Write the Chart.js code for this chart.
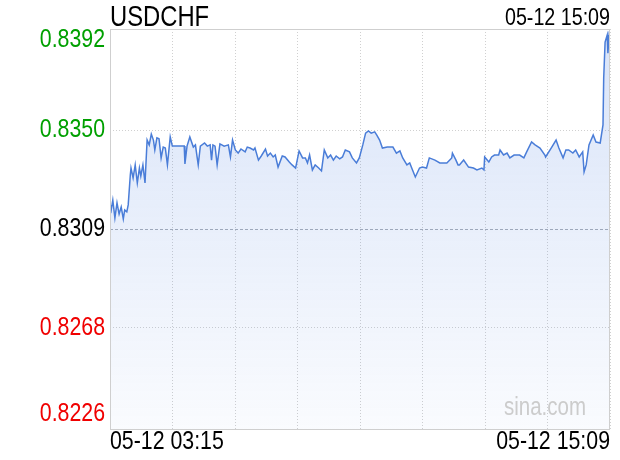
<!DOCTYPE html>
<html lang="en">
<head>
    <meta charset="UTF-8">
    <title>USDCHF</title>
    <script src="https://cdn.jsdelivr.net/npm/chart.js@4.4.1/dist/chart.umd.min.js"></script>
    <style>
        body { margin: 0; background: #fff; }
        canvas { display: block; }
    </style>
</head>
<body>
    <canvas id="fx" width="620" height="460"></canvas>

    <script>
        const symbol = "USDCHF";
        const lastTime = "05-12 15:09";
        const xLabels = ["05-12 03:15", "05-12 15:09"];
        const yTicks = [0.8226, 0.8268, 0.8309, 0.8350, 0.8392];
        const prevClose = 0.8309;

        // minutes after 03:15
        const minutes = [0, 1, 4, 7, 10, 13, 16, 19, 21, 24, 26, 29, 30, 33, 36, 39, 42, 44, 47, 50,
            53, 56, 59, 62, 64, 67, 70, 73, 76, 79, 82, 86, 89, 106, 107, 110, 114, 119, 122, 124,
            126, 129, 135, 139, 143, 145, 147, 150, 153, 157, 163, 169, 172, 175, 179, 183, 187, 193, 196, 200,
            205, 207, 212, 216, 222, 225, 229, 233, 236, 240, 246, 250, 256, 260, 265, 270, 275, 279, 282, 285,
            289, 293, 298, 302, 306, 311, 315, 319, 323, 328, 332, 336, 342, 346, 352, 356, 361, 365, 369, 373,
            378, 381, 385, 389, 396, 404, 409, 414, 418, 424, 428, 432, 436, 442, 446, 452, 456, 464, 471, 481,
            488, 489, 494, 497, 499, 505, 512, 519, 524, 531, 534, 535, 541, 545, 549, 555, 557, 562, 567, 571,
            577, 585, 591, 595, 602, 607, 614, 621, 622, 630, 637, 641, 647, 651, 655, 661, 665, 670, 675, 677,
            680, 684, 690, 694, 700, 704, 705, 707, 710, 711, 713, 714];

        const prices = [0.83190, 0.83156, 0.83210, 0.83136, 0.83198, 0.83152, 0.83181, 0.83132, 0.83169, 0.83161,
            0.83190, 0.83314, 0.83343, 0.83302, 0.83356, 0.83281, 0.83343, 0.83310, 0.83356, 0.83281,
            0.83459, 0.83439, 0.83484, 0.83459, 0.83418, 0.83468, 0.83464, 0.83385, 0.83430, 0.83426,
            0.83356, 0.83472, 0.83434, 0.83434, 0.83360, 0.83434, 0.83472, 0.83430, 0.83439, 0.83397,
            0.83356, 0.83434, 0.83447, 0.83434, 0.83439, 0.83376, 0.83439, 0.83434, 0.83356, 0.83443,
            0.83434, 0.83439, 0.83389, 0.83459, 0.83418, 0.83405, 0.83422, 0.83410, 0.83430, 0.83426,
            0.83418, 0.83426, 0.83376, 0.83393, 0.83422, 0.83393, 0.83405, 0.83389, 0.83397, 0.83347,
            0.83393, 0.83389, 0.83368, 0.83356, 0.83343, 0.83414, 0.83385, 0.83385, 0.83364, 0.83397,
            0.83335, 0.83356, 0.83343, 0.83331, 0.83418, 0.83385, 0.83397, 0.83376, 0.83393, 0.83381,
            0.83389, 0.83418, 0.83410, 0.83385, 0.83364, 0.83385, 0.83439, 0.83488, 0.83497, 0.83488,
            0.83493, 0.83480, 0.83459, 0.83426, 0.83430, 0.83430, 0.83405, 0.83414, 0.83385, 0.83356,
            0.83364, 0.83335, 0.83306, 0.83343, 0.83347, 0.83343, 0.83385, 0.83376, 0.83364, 0.83364,
            0.83385, 0.83405, 0.83376, 0.83356, 0.83356, 0.83376, 0.83347, 0.83343, 0.83335, 0.83343,
            0.83335, 0.83389, 0.83368, 0.83389, 0.83397, 0.83397, 0.83418, 0.83397, 0.83405, 0.83385,
            0.83397, 0.83397, 0.83385, 0.83410, 0.83451, 0.83439, 0.83426, 0.83397, 0.83389, 0.83426,
            0.83459, 0.83426, 0.83385, 0.83418, 0.83418, 0.83405, 0.83418, 0.83389, 0.83410, 0.83327,
            0.83356, 0.83439, 0.83480, 0.83451, 0.83447, 0.83522, 0.83717, 0.83866, 0.83895, 0.83820,
            0.83908, 0.83916];

        const FONT = '"Liberation Sans", Arial, sans-serif';
        const NARROW = 0.82;   // no narrow face installed, squeeze the normal one
        const lineColor = '#4a7dd8';

        function labelColor(v) {
            if (v > prevClose) return '#00a000';
            if (v < prevClose) return '#f00000';
            return '#000000';
        }

        function narrowText(ctx, text, x, y, align) {
            ctx.save();
            ctx.translate(x, y);
            ctx.scale(NARROW, 1);
            ctx.textAlign = align;
            ctx.fillText(text, 0, 0);
            ctx.restore();
        }

        const textPlugin = {
            id: 'sinaText',
            afterDatasetsDraw(chart) {
                const {ctx, chartArea} = chart;
                ctx.save();
                ctx.font = '25px ' + FONT;
                ctx.fillStyle = '#cccccc';
                ctx.textBaseline = 'alphabetic';
                narrowText(ctx, 'sina.com', chartArea.right - 24, chartArea.bottom - 14, 'right');
                ctx.restore();
            },
            afterDraw(chart) {
                const {ctx, chartArea} = chart;
                const yScale = chart.scales.y;
                ctx.save();
                // frame
                ctx.strokeStyle = '#cfcfcf';
                ctx.lineWidth = 1;
                ctx.strokeRect(chartArea.left + 0.5, chartArea.top + 0.5,
                    chartArea.right - chartArea.left - 1, chartArea.bottom - chartArea.top);

                // title and time
                ctx.fillStyle = '#000';
                ctx.textBaseline = 'alphabetic';
                ctx.font = '29px ' + FONT;
                narrowText(ctx, symbol, chartArea.left, 26, 'left');
                ctx.font = '24px ' + FONT;
                narrowText(ctx, lastTime, chartArea.right, 25, 'right');

                // x labels
                ctx.font = '26px ' + FONT;
                narrowText(ctx, xLabels[0], chartArea.left, 449, 'left');
                narrowText(ctx, xLabels[1], chartArea.right, 449, 'right');

                // y labels
                ctx.font = '26px ' + FONT;
                ctx.textBaseline = 'middle';
                yTicks.forEach(v => {
                    let y = yScale.getPixelForValue(v);
                    y = Math.max(y, chartArea.top + 11);
                    y = Math.min(y, chartArea.bottom - 15);
                    ctx.fillStyle = labelColor(v);
                    narrowText(ctx, v.toFixed(4), chartArea.left - 5, y, 'right');
                });
                ctx.restore();
            }
        };

        const points = minutes.map((m, i) => ({x: m, y: prices[i]}));
        const xGrid = [0, 1, 2, 3, 4, 5, 6, 7, 8].map(i => i * 714 / 8);

        new Chart(document.getElementById('fx'), {
            type: 'line',
            data: {
                datasets: [{
                    data: points,
                    borderColor: lineColor,
                    borderWidth: 1.5,
                    pointRadius: 0,
                    tension: 0,
                    fill: 'start',
                    backgroundColor: ctx => {
                        const area = ctx.chart.chartArea;
                        if (!area) return 'rgba(90,140,225,0.15)';
                        const g = ctx.chart.ctx.createLinearGradient(0, area.top, 0, area.bottom);
                        g.addColorStop(0, 'rgba(80,130,225,0.22)');
                        g.addColorStop(1, 'rgba(80,130,225,0.03)');
                        return g;
                    }
                }]
            },
            options: {
                responsive: false,
                animation: false,
                devicePixelRatio: 1,
                layout: { padding: { top: 29, right: 10, left: 0, bottom: 0 } },
                plugins: {
                    legend: { display: false },
                    tooltip: { enabled: false }
                },
                scales: {
                    x: {
                        type: 'linear',
                        min: 0,
                        max: 714,
                        afterBuildTicks: scale => { scale.ticks = xGrid.map(v => ({value: v})); },
                        afterFit: scale => { scale.height = 31; },
                        border: { display: false, dash: [1, 2] },
                        grid: { color: '#d0d0d0', drawTicks: false, lineWidth: 1 },
                        ticks: { display: false }
                    },
                    y: {
                        min: yTicks[0],
                        max: yTicks[yTicks.length - 1],
                        afterBuildTicks: scale => { scale.ticks = yTicks.map(v => ({value: v})); },
                        afterFit: scale => { scale.width = 110; },
                        border: {
                            display: false,
                            dash: ctx => (ctx.tick && ctx.tick.value === prevClose) ? [3, 2] : [1, 2]
                        },
                        grid: {
                            drawTicks: false,
                            color: ctx => (ctx.tick && ctx.tick.value === prevClose) ? '#a8adb5' : '#d0d0d0'
                        },
                        ticks: { display: false }
                    }
                }
            },
            plugins: [textPlugin]
        });
    </script>
</body>
</html>
